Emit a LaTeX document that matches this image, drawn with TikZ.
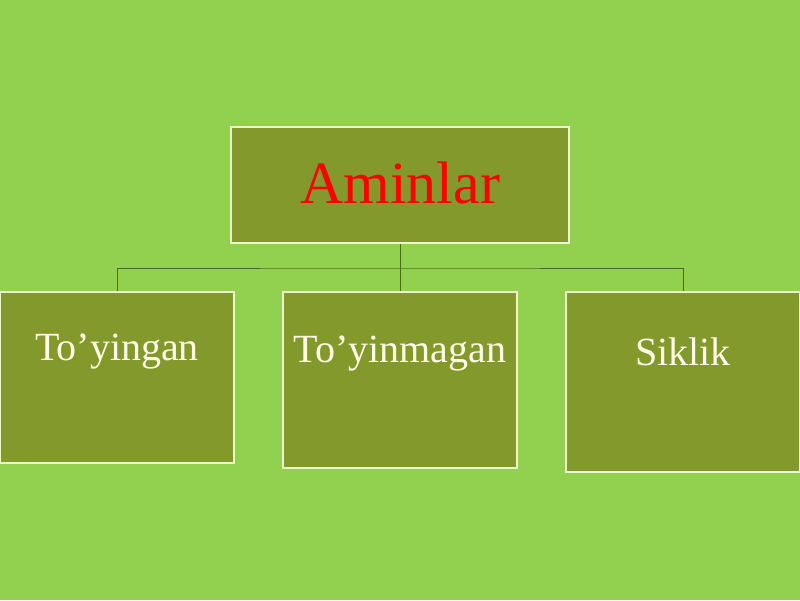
\documentclass[tikz,border=0pt]{standalone}
\usepackage{fontspec}
\setmainfont{Liberation Serif}
\definecolor{bggreen}{HTML}{92D050}
\definecolor{boxolive}{HTML}{84992B}
\definecolor{boxedge}{HTML}{EEF7C8}
\definecolor{linkcol}{HTML}{4E6A1E}
\definecolor{lighttext}{HTML}{FFFDE6}
\tikzset{
  box/.style={draw=boxedge, line width=1.5pt, fill=boxolive, inner sep=0pt},
  link/.style={draw=linkcol, line width=0.9pt},
  toptext/.style={text=red, font=\fontsize{60}{70}\selectfont, anchor=base, inner sep=0pt},
  subtext/.style={text=lighttext, font=\fontsize{40}{48}\selectfont, anchor=base, inner sep=0pt},
}
\begin{document}
\begin{tikzpicture}[x=1pt,y=-1pt]
\useasboundingbox (0,0) rectangle (800,600);
\fill[bggreen] (0,0) rectangle (800,600);
% boxes
\node[box, minimum width=338pt, minimum height=116pt] (top) at (400,185) {};
\node[box, minimum width=234pt, minimum height=171pt] (left) at (117,377.5) {};
\node[box, minimum width=234pt, minimum height=176pt] (mid) at (400,380) {};
\node[box, minimum width=234pt, minimum height=180pt] (right) at (683,382) {};
% connectors
\coordinate (hub) at (400,268);
\draw[link] (top.south) -- (hub);
\draw[link] (left.north) |- (hub) -| (right.north);
\draw[link] (hub) -- (mid.north);
% texts
\node[toptext] (ttop) at (400,203) {Aminlar};
\node[subtext] (tleft) at (117,360) {To’yingan};
\node[subtext] (tmid) at (400,362) {To’yinmagan};
\node[subtext] (tright) at (683,365) {Siklik};
\end{tikzpicture}
\end{document}
